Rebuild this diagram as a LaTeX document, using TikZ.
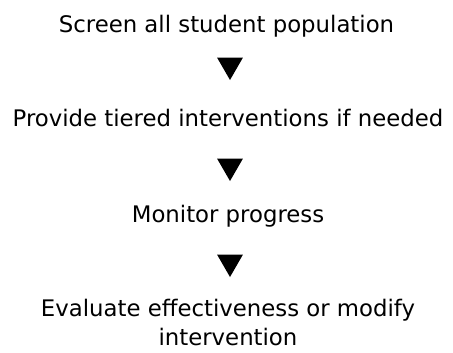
\documentclass[tikz,border=0pt]{standalone}
\usepackage{fontspec}
\setmainfont{DejaVu Sans}
\usetikzlibrary{shapes.geometric}

\begin{document}
\begin{tikzpicture}[x=1bp, y=-1bp,
	step_text/.style={inner sep=0pt, anchor=base, align=center, font=\fontsize{22.8bp}{29bp}\selectfont},
	down_tri/.style={regular polygon, regular polygon sides=3, shape border rotate=180, fill=black, inner sep=0pt, minimum size=30bp}]
	\useasboundingbox (0,0) rectangle (453,352);
	
	\node[step_text] (screen) at (226.5, 32) {Screen all student population};
	\node[down_tri] (t1) at (230, 65) {};
	\node[step_text] (provide) at (228, 126) {Provide tiered interventions if needed};
	\node[down_tri] (t2) at (230, 166) {};
	\node[step_text] (monitor) at (228, 222) {Monitor progress};
	\node[down_tri] (t3) at (230, 262) {};
	% base of a two-line node is the last line
	\node[step_text] (evaluate) at (228, 345) {Evaluate effectiveness or modify\\intervention};
\end{tikzpicture}
\end{document}
